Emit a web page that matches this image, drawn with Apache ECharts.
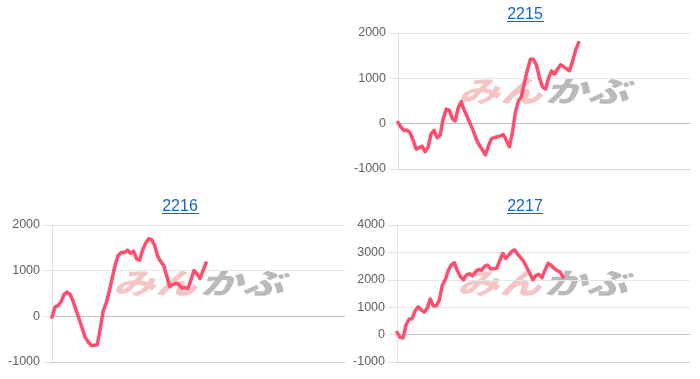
<!DOCTYPE html>
<html>
<head>
<meta charset="utf-8">
<script src="https://cdn.jsdelivr.net/npm/echarts@6/dist/echarts.min.js"></script>
<style>html,body{margin:0;padding:0;background:#fff}#c{width:700px;height:379px}</style>
</head>
<body>
<div id="c"></div>
<script>
// ---- data ----
const titles = ['2215', '2216', '2217'];
const days = Array.from({length: 98}, (_, i) => String(i + 1));
const s2215 = [30, -80, -150, -140, -200, -360, -560, -530, -500, -620, -520, -220, -150, -310, -250, 100, 320, 300, 120, 60,
  350, 490, 300, 150, 0, -160, -340, -470, -570, -690, -500, -335, -305, -290, -270, -240, -370, -510, -200, 250,
  500, 595, 900, 1190, 1420, 1420, 1290, 1010, 810, 760, 1000, 1165, 1095, 1200, 1300, 1260, 1210, 1170, 1380, 1620, 1790];
const s2216 = [-20, 205, 235, 315, 480, 530, 480, 330, 130, -60, -260, -460, -562, -635, -635, -620, -260, 130, 300, 560,
  860, 1150, 1340, 1400, 1400, 1450, 1380, 1430, 1260, 1230, 1450, 1600, 1700, 1680, 1550, 1320, 1200, 1110, 880, 650,
  700, 720, 700, 620, 630, 610, 800, 1000, 930, 830, 1000, 1170];
const s2217 = [80, -100, -120, 350, 560, 580, 870, 1010, 900, 820, 960, 1300, 1050, 1050, 1250, 1800, 2010, 2350, 2550, 2620,
  2330, 2120, 2000, 2180, 2220, 2150, 2300, 2380, 2350, 2488, 2540, 2400, 2400, 2420, 2700, 2960, 2780, 2900, 3040, 3090,
  2930, 2800, 2660, 2440, 2230, 2000, 2160, 2200, 2080, 2350, 2600, 2530, 2420, 2340, 2280, 2100];
const yRanges = [[-1000, 2000], [-1000, 2000], [-1000, 4000]];
const seriesData = [s2215, s2216, s2217];

// ---- layout ----
const grids = [
  {left: 398, top: 33, width: 292, height: 136},
  {left: 52, top: 225, width: 293, height: 137},
  {left: 397, top: 225, width: 293, height: 137}
];
const titlePos = [{x: 525, y: 7}, {x: 180, y: 199}, {x: 525, y: 199}];
const underline = [{x1: 507, x2: 544, y: 21.5}, {x1: 162, x2: 199, y: 213.5}, {x1: 507, x2: 543, y: 213.5}];
const logoPos = [[542, 91], [197, 283], [541, 283]];

const FONT = '"Liberation Sans", Arial, sans-serif';
const LINE = '#ff4d6d';

const option = {
  animation: false,
  backgroundColor: '#fff',
  title: titles.map((t, i) => ({
    text: t, left: titlePos[i].x, top: titlePos[i].y, textAlign: 'center', padding: 0,
    textStyle: {color: '#1a62c6', fontSize: 16, fontWeight: 'normal', fontFamily: FONT}
  })),
  grid: grids.map(g => Object.assign({containLabel: false}, g)),
  xAxis: grids.map((g, i) => ({
    type: 'category', gridIndex: i, data: days, boundaryGap: false,
    axisLine: {show: true, onZero: false, lineStyle: {color: '#d0d0d0', width: 1}},
    axisTick: {show: false}, axisLabel: {show: false}, splitLine: {show: false}
  })),
  yAxis: yRanges.map((r, i) => ({
    type: 'value', gridIndex: i, min: r[0], max: r[1], interval: 1000,
    axisLine: {show: true, lineStyle: {color: '#e2e2e2'}},
    axisTick: {show: true, length: 9, lineStyle: {color: '#e2e2e2'}},
    axisLabel: {color: '#606060', fontSize: 12.5, fontFamily: FONT, margin: 12, formatter: v => String(v)},
    splitLine: {show: true, lineStyle: {color: '#e6e6e6', width: 1}}
  })),
  series: seriesData.map((d, i) => ({
    type: 'line', xAxisIndex: i, yAxisIndex: i, data: d, showSymbol: false, symbol: 'none',
    z: 3,
    lineStyle: {color: LINE, width: 3.5, join: 'round', cap: 'round'},
    itemStyle: {color: LINE},
    markLine: {
      silent: true, symbol: 'none', label: {show: false}, z: 1,
      lineStyle: {color: '#c4c4c4', width: 1, type: 'solid'},
      data: [{yAxis: 0}]
    }
  })),
  graphic: [].concat(
    underline.map(u => ({
      type: 'line', z: 5, shape: {x1: u.x1, y1: u.y, x2: u.x2, y2: u.y},
      style: {stroke: '#1a62c6', lineWidth: 1}
    })),
    logoPos.map(p => ({
      type: 'group', x: p[0], y: p[1], scaleX: 1.45, z: 0, silent: true,
      children: [
        {type: 'text', style: {text: 'みん', x: 0, y: 0, align: 'right', verticalAlign: 'middle',
          font: 'italic 900 29px "Noto Sans CJK JP"', fill: 'rgba(226,110,110,0.4)'}},
        {type: 'text', style: {text: 'かぶ', x: 2, y: 0, align: 'left', verticalAlign: 'middle',
          font: 'italic 900 29px "Noto Sans CJK JP"', fill: 'rgba(140,140,140,0.6)'}}
      ]
    }))
  )
};

const chart = echarts.init(document.getElementById('c'), null, {renderer: 'canvas'});
chart.setOption(option);
</script>
</body>
</html>
